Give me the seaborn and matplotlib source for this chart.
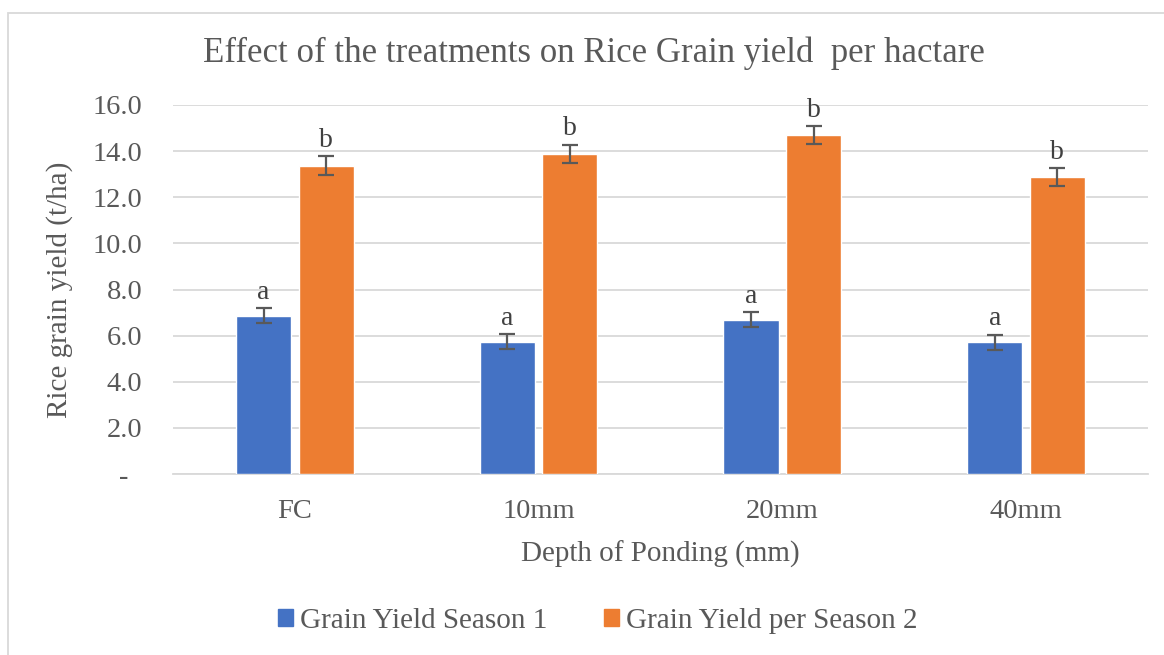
import matplotlib
matplotlib.use("Agg")
import matplotlib.pyplot as plt
import matplotlib.patches as mpatches
import seaborn as sns
import pandas as pd

# data
depths = ["FC", "10mm", "20mm", "40mm"]
season1 = [6.86, 5.74, 6.69, 5.71]
season2 = [13.37, 13.88, 14.69, 12.87]
err1 = [0.32, 0.32, 0.32, 0.32]
err2 = [0.40, 0.40, 0.40, 0.40]
letters1 = ["a", "a", "a", "a"]
letters2 = ["b", "b", "b", "b"]
series_names = ["Grain Yield Season 1", "Grain Yield per Season 2"]
yticks = [0, 2, 4, 6, 8, 10, 12, 14, 16]

blue = "#4472C4"
orange = "#ED7D31"
txt = "#595959"
grid = "#D9D9D9"

df = pd.DataFrame({
    "depth": depths * 2,
    "yield": season1 + season2,
    "series": [series_names[0]] * 4 + [series_names[1]] * 4,
})

sns.set_style("white")
plt.rcParams["font.family"] = ["Liberation Serif", "DejaVu Serif"]

fig = plt.figure(figsize=(11.64, 6.55), dpi=100)
ax = fig.add_axes([0.1486, 0.2763, 0.8376, 0.5634])

sns.barplot(data=df, x="depth", y="yield", hue="series", order=depths,
            hue_order=series_names, palette=[blue, orange], saturation=1,
            width=0.514, gap=0.12, errorbar=None, legend=False, ax=ax, zorder=3)

# error bars + significance letters, placed on the bars seaborn drew
bars = [p for p in ax.patches if p.get_height() > 0]
vals = season1 + season2
errs = err1 + err2
lets = letters1 + letters2
for p, v, e, l in zip(bars, vals, errs, lets):
    cx = p.get_x() + p.get_width() / 2
    ax.errorbar(cx, v, yerr=e, fmt="none", ecolor=txt, elinewidth=1.6,
                capsize=6, capthick=1.6, zorder=4)
    ax.text(cx, v + e + 0.15, l, ha="center", va="bottom", fontsize=20,
            color="#404040")

ax.set_ylim(0, 16)
ax.set_xlim(-0.5, 3.5)
ax.set_yticks(yticks)
ax.set_yticklabels(["-  "] + [f"{t:.1f}" for t in yticks[1:]])
ax.yaxis.grid(True, color=grid, linewidth=1.3, zorder=0)
ax.set_axisbelow(True)
for s in ["left", "right", "top"]:
    ax.spines[s].set_visible(False)
ax.spines["bottom"].set_color(grid)
ax.spines["bottom"].set_linewidth(1.3)
ax.tick_params(axis="both", length=0, labelsize=20.5, colors=txt)
ax.tick_params(axis="x", pad=18)
ax.tick_params(axis="y", pad=22)
ax.set_xlabel("Depth of Ponding (mm)", fontsize=21, color=txt, labelpad=12)
ax.set_ylabel("Rice grain yield (t/ha)", fontsize=21, color=txt, labelpad=14)

fig.text(0.510, 0.918, "Effect of the treatments on Rice Grain yield  per hactare",
         ha="center", va="center", fontsize=25, color=txt)

handles = [mpatches.Patch(color=blue, label=series_names[0]),
           mpatches.Patch(color=orange, label=series_names[1])]
fig.legend(handles=handles, loc="center", bbox_to_anchor=(0.5135, 0.052), ncol=2,
           frameon=False, fontsize=21, handlelength=0.5, handleheight=0.5,
           handletextpad=0.25, columnspacing=1.95, labelcolor=txt)

# light outer border like the Excel chart area
fig.patches.append(mpatches.Rectangle((0.007, -0.01), 1.2, 0.99, transform=fig.transFigure,
                                      fill=False, edgecolor=grid, linewidth=1.3))

fig.savefig("out.png", dpi=100, facecolor="white")
